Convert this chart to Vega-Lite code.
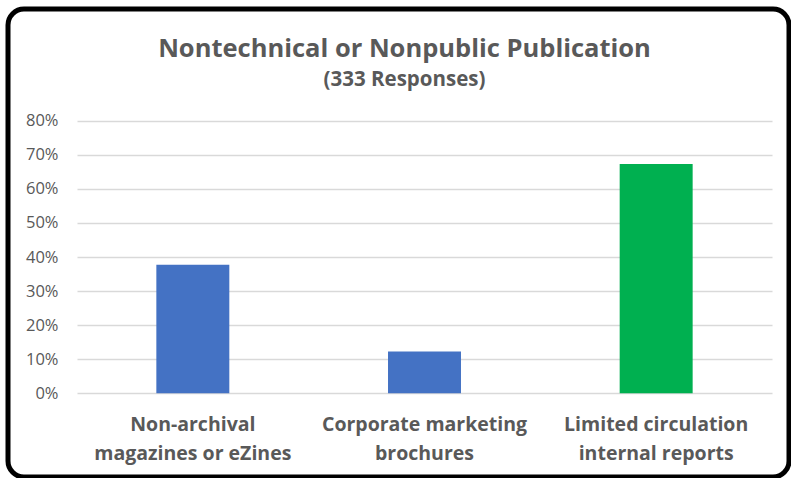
{
  "$schema": "https://vega.github.io/schema/vega-lite/v6.json",
  "width": 781,
  "height": 468,
  "autosize": {"type": "none"},
  "padding": {"left": 8, "top": 9, "right": 2, "bottom": 1},
  "background": "white",
  "config": {
    "view": {"stroke": "black", "strokeWidth": 5, "cornerRadius": 16},
    "font": "Open Sans"
  },
  "title": {
    "text": "Nontechnical or Nonpublic Publication",
    "subtitle": "(333 Responses)",
    "anchor": "middle",
    "frame": "group",
    "offset": -81,
    "dx": 6,
    "fontSize": 25.5,
    "fontWeight": "bold",
    "color": "#595959",
    "subtitleFontSize": 20.5,
    "subtitleFontWeight": "bold",
    "subtitleColor": "#595959",
    "subtitlePadding": 7
  },
  "data": {
    "values": [
      {"category": "Non-archival magazines or eZines", "share": 0.377},
      {"category": "Corporate marketing brochures", "share": 0.123},
      {"category": "Limited circulation internal reports", "share": 0.673}
    ]
  },
  "mark": {"type": "bar"},
  "encoding": {
    "x": {
      "field": "category",
      "type": "nominal",
      "sort": null,
      "scale": {"range": [69, 764], "paddingInner": 0.685, "paddingOuter": 0.3425},
      "axis": {
        "title": null,
        "labelAngle": 0,
        "domain": false,
        "ticks": false,
        "tickSize": 0,
        "offset": -83.7,
        "labelPadding": 22,
        "labelFontSize": 19.5,
        "labelFontWeight": "bold",
        "labelColor": "#595959",
        "labelLineHeight": 29,
        "labelLimit": 0,
        "labelExpr": "datum.label == 'Non-archival magazines or eZines' ? ['Non-archival', 'magazines or eZines'] : datum.label == 'Corporate marketing brochures' ? ['Corporate marketing', 'brochures'] : ['Limited circulation', 'internal reports']"
      }
    },
    "y": {
      "field": "share",
      "type": "quantitative",
      "scale": {"domain": [-0.2454, 1.1277], "nice": false, "zero": false},
      "axis": {
        "title": null,
        "values": [0, 0.1, 0.2, 0.3, 0.4, 0.5, 0.6, 0.7, 0.8],
        "format": ".0%",
        "grid": true,
        "gridColor": "#d9d9d9",
        "gridWidth": 1.3,
        "domain": false,
        "ticks": false,
        "tickSize": 0,
        "offset": -60,
        "labelPadding": 10,
        "labelFontSize": 16.5,
        "labelColor": "#595959"
      }
    },
    "y2": {"datum": 0},
    "color": {
      "condition": {"test": "datum.category == 'Limited circulation internal reports'", "value": "#00B050"},
      "value": "#4472C4"
    }
  }
}
